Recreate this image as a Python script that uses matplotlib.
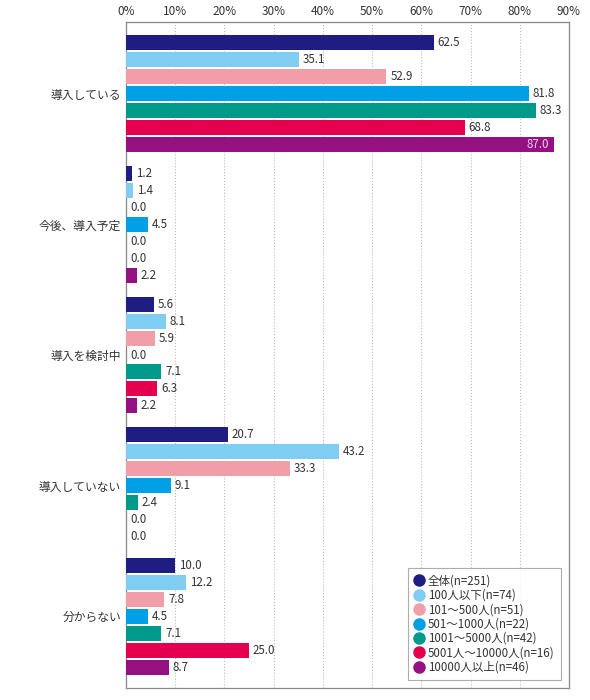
import numpy as np
import matplotlib.pyplot as plt

plt.rcParams['font.family'] = ['Noto Sans CJK JP', 'DejaVu Sans']

categories = ['導入している', '今後、導入予定', '導入を検討中', '導入していない', '分からない']
series = ['全体(n=251)', '100人以下(n=74)', '101～500人(n=51)', '501～1000人(n=22)',
          '1001～5000人(n=42)', '5001人～10000人(n=16)', '10000人以上(n=46)']
values = [
    [62.5, 1.2, 5.6, 20.7, 10.0],
    [35.1, 1.4, 8.1, 43.2, 12.2],
    [52.9, 0.0, 5.9, 33.3, 7.8],
    [81.8, 4.5, 0.0, 9.1, 4.5],
    [83.3, 0.0, 7.1, 2.4, 7.1],
    [68.8, 0.0, 6.3, 0.0, 25.0],
    [87.0, 2.2, 2.2, 0.0, 8.7],
]
colors = ['#1e1e82', '#80cdf3', '#f09fa8', '#00a0e6', '#009a8c', '#e5004f', '#951080']

fig = plt.figure(figsize=(5.9, 7), dpi=100)
ax = fig.add_axes([0.2136, 0.0171, 0.7508, 0.9515])

step = 0.13
height = 0.115
y0 = np.arange(len(categories))
for i, (name, vals, c) in enumerate(zip(series, values, colors)):
    y = y0 + (i - 3) * step
    ax.barh(y, vals, height=height, color=c, zorder=3)
    for yy, v in zip(y, vals):
        if v >= 86:
            ax.text(v - 1, yy, f'{v:.1f}', va='center', ha='right', fontsize=8.3,
                    color='#f5d0ee', zorder=4)
        else:
            ax.text(v + 0.8, yy, f'{v:.1f}', va='center', ha='left', fontsize=8.3,
                    color='#333333', zorder=4)

ax.set_xlim(0, 90)
ax.set_ylim(4.55, -0.55)
ax.set_xticks(np.arange(0, 91, 10))
ax.set_xticklabels([f'{t}%' for t in range(0, 91, 10)], fontsize=8.5, color='#333333')
ax.xaxis.tick_top()
ax.set_yticks(y0)
ax.set_yticklabels(categories, fontsize=8.5, color='#333333')
ax.tick_params(axis='y', length=0, pad=3.5)
ax.tick_params(axis='x', length=0, pad=3)
ax.grid(axis='x', linestyle=':', color='#bbbbbb', linewidth=0.8, zorder=0)
for s in ax.spines.values():
    s.set_color('#888888')
    s.set_linewidth(0.9)

# round markers in legend
handles = [plt.Line2D([], [], marker='o', linestyle='', markersize=8, color=c) for c in colors]
leg = ax.legend(handles, series, loc='lower right', bbox_to_anchor=(0.982, 0.012), fontsize=8.3,
                handlelength=0.9, handletextpad=0.3, labelspacing=0.12, borderpad=0.55,
                borderaxespad=0, frameon=True, fancybox=False, edgecolor='#999999')
leg.get_frame().set_linewidth(0.8)
for t in leg.get_texts():
    t.set_color('#333333')

fig.savefig('out.png', dpi=100)
